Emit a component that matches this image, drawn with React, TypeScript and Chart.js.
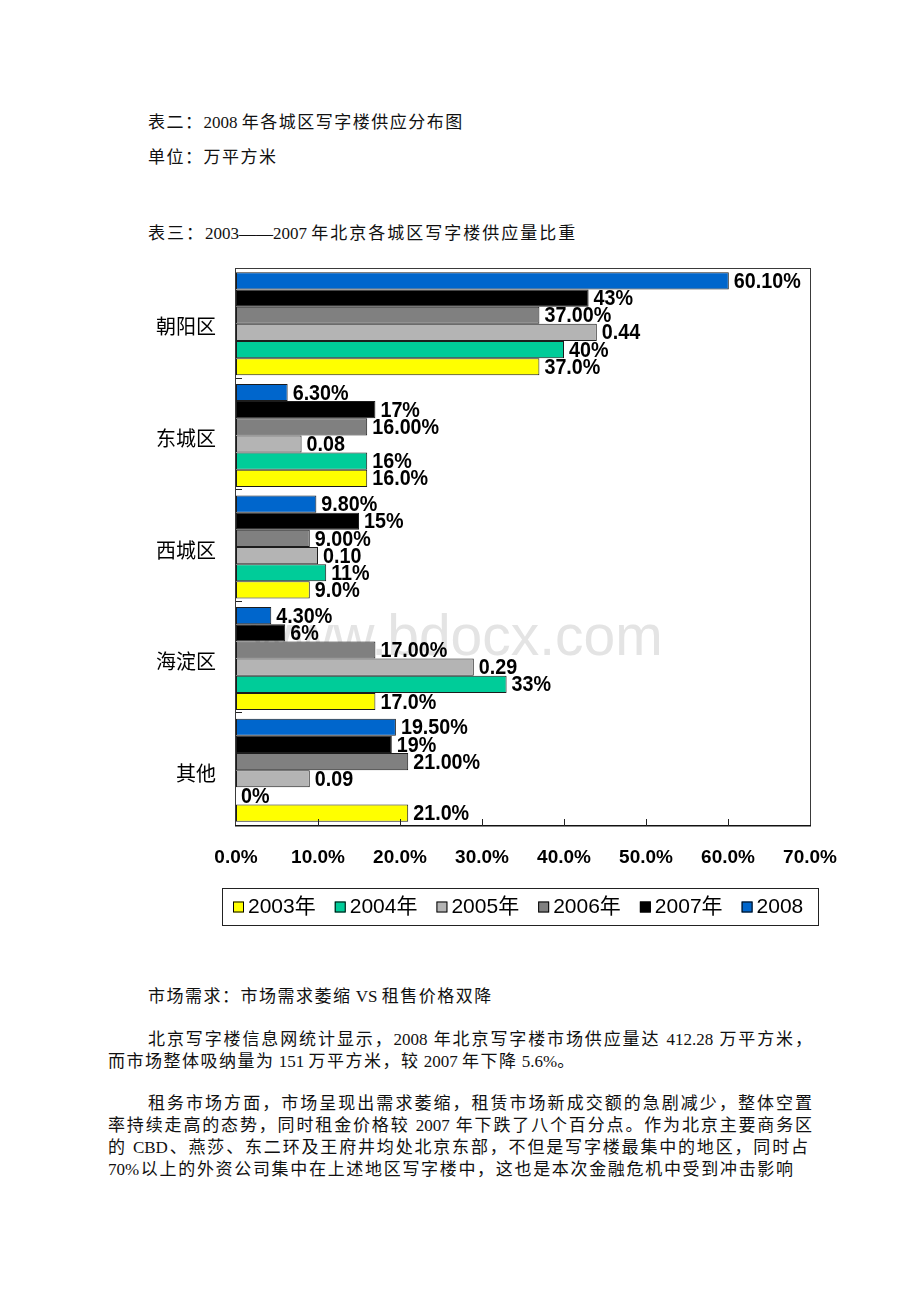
import React, { useEffect, useRef } from 'react';
import { Chart, registerables } from 'chart.js';

Chart.register(...registerables);

// ---------- data ----------
const categories = ['朝阳区', '东城区', '西城区', '海淀区', '其他'];

const seriesNames = ['2003年', '2004年', '2005年', '2006年', '2007年', '2008'];
const seriesColors = ['#FFFF00', '#00CC99', '#B4B4B4', '#808080', '#000000', '#0066CC'];

const values2003 = [37, 16, 9, 17, 21];
const values2004 = [40, 16, 11, 33, 0];
const values2005 = [44, 8, 10, 29, 9];
const values2006 = [37, 16, 9, 17, 21];
const values2007 = [43, 17, 15, 6, 19];
const values2008 = [60.1, 6.3, 9.8, 4.3, 19.5];

const labels2003 = ['37.0%', '16.0%', '9.0%', '17.0%', '21.0%'];
const labels2004 = ['40%', '16%', '11%', '33%', '0%'];
const labels2005 = ['0.44', '0.08', '0.10', '0.29', '0.09'];
const labels2006 = ['37.00%', '16.00%', '9.00%', '17.00%', '21.00%'];
const labels2007 = ['43%', '17%', '15%', '6%', '19%'];
const labels2008 = ['60.10%', '6.30%', '9.80%', '4.30%', '19.50%'];

const xMin = 0;
const xMax = 70;
const xStep = 10;

const allValues = [values2003, values2004, values2005, values2006, values2007, values2008];
const allLabels = [labels2003, labels2004, labels2005, labels2006, labels2007, labels2008];
// bars are stacked top-to-bottom 2008 ... 2003 inside each category
const drawOrder = [5, 4, 3, 2, 1, 0];

const LABEL_FONT = 'bold 21px "Liberation Sans", Arial, sans-serif';
const LEGEND_FONT = '21px "Liberation Sans", Arial, "Noto Sans CJK SC", sans-serif';

const valueLabelPlugin = {
  id: 'valueLabels',
  afterDatasetsDraw(chart: any) {
    const ctx = chart.ctx;
    chart.data.datasets.forEach((ds: any, di: number) => {
      const meta = chart.getDatasetMeta(di);
      meta.data.forEach((bar: any, i: number) => {
        const text = ds.valueLabels[i];
        ctx.save();
        ctx.font = LABEL_FONT;
        ctx.fillStyle = '#000';
        ctx.textAlign = 'left';
        ctx.textBaseline = 'middle';
        ctx.translate(bar.x + 5, bar.y + 1);
        ctx.scale(0.94, 1.05);
        ctx.fillText(text, 0, 0);
        ctx.restore();
      });
    });
  },
};

const framePlugin = {
  id: 'frame',
  afterDraw(chart: any) {
    const ctx = chart.ctx;
    const { left, right, top, bottom } = chart.chartArea;
    const xs = chart.scales.x;
    const ys = chart.scales.y;
    ctx.save();
    ctx.strokeStyle = '#3a3a3a';
    ctx.lineWidth = 1;
    ctx.strokeRect(left - 0.5, top + 0.5, right - left + 1, bottom - top - 1);
    // bottom axis line
    ctx.strokeStyle = '#111';
    ctx.lineWidth = 1.5;
    ctx.beginPath();
    ctx.moveTo(left - 1, bottom - 0.25);
    ctx.lineTo(right + 1, bottom - 0.25);
    ctx.stroke();
    // inner ticks on x axis
    ctx.lineWidth = 1;
    ctx.strokeStyle = '#222';
    xs.ticks.forEach((t: any) => {
      const x = Math.round(xs.getPixelForValue(t.value)) + 0.5;
      if (x <= left + 1 || x >= right - 1) return;
      ctx.beginPath();
      ctx.moveTo(x, bottom);
      ctx.lineTo(x, bottom - 7);
      ctx.stroke();
    });
    // inner ticks on y axis (category boundaries)
    for (let i = 0; i < categories.length - 1; i++) {
      const y = Math.round((ys.getPixelForTick(i) + ys.getPixelForTick(i + 1)) / 2) - 1.5;
      ctx.beginPath();
      ctx.moveTo(left, y);
      ctx.lineTo(left + 6, y);
      ctx.stroke();
    }
    ctx.restore();

    // legend box
    const boxLeft = 122;
    const boxTop = bottom + 62;
    const boxRight = 718;
    const boxBottom = boxTop + 37;
    ctx.save();
    ctx.strokeStyle = '#222';
    ctx.lineWidth = 1;
    ctx.strokeRect(boxLeft + 0.5, boxTop + 0.5, boxRight - boxLeft, boxBottom - boxTop);
    ctx.font = LEGEND_FONT;
    ctx.textBaseline = 'middle';
    ctx.textAlign = 'left';
    const cy = (boxTop + boxBottom) / 2 + 1;
    let x = boxLeft + 11;
    const items = chart.data.datasets.slice().reverse();
    items.forEach((ds: any) => {
      ctx.fillStyle = ds.backgroundColor;
      ctx.fillRect(x, cy - 6, 11, 11);
      ctx.strokeStyle = '#000';
      ctx.strokeRect(x + 0.5, cy - 5.5, 10, 10);
      ctx.fillStyle = '#000';
      const tx = x + 15;
      ctx.fillText(ds.label, tx, cy);
      x = tx + ctx.measureText(ds.label).width + 19;
    });
    ctx.restore();
  },
};

function ChartBox() {
  const ref = useRef<HTMLCanvasElement>(null);
  useEffect(() => {
    const datasets = drawOrder.map((k) => ({
      label: seriesNames[k],
      data: allValues[k],
      valueLabels: allLabels[k],
      backgroundColor: seriesColors[k],
      borderColor: '#1c1c1c',
      borderWidth: 1,
      borderSkipped: false,
      categoryPercentage: 0.923,
      barPercentage: 1,
    }));
    const chart = new Chart(ref.current as HTMLCanvasElement, {
      type: 'bar',
      data: { labels: categories, datasets: datasets as any },
      options: {
        indexAxis: 'y',
        responsive: false,
        maintainAspectRatio: false,
        animation: false,
        devicePixelRatio: 1,
        layout: { padding: { top: 18, right: 50, left: 0, bottom: 62 } },
        plugins: {
          legend: { display: false },
          tooltip: { enabled: false },
        },
        scales: {
          x: {
            min: xMin,
            max: xMax,
            ticks: {
              stepSize: xStep,
              callback: (v: any) => Number(v).toFixed(1) + '%',
              font: { size: 19, weight: 'bold', family: '"Liberation Sans", Arial, sans-serif' },
              color: '#000',
              padding: 20,
              maxRotation: 0,
            },
            grid: { display: false, drawTicks: false },
            border: { display: false },
            afterFit: (s: any) => {
              s.height = 62;
              s.paddingLeft = 0;
              s.paddingRight = 0;
            },
          },
          y: {
            ticks: {
              font: { size: 20, family: '"Noto Sans CJK SC", sans-serif' },
              color: '#000',
              padding: 20,
              labelOffset: 3,
            },
            grid: { display: false, drawTicks: false },
            border: { display: false },
            afterFit: (s: any) => {
              s.width = 136;
              s.paddingTop = 0;
              s.paddingBottom = 0;
            },
          },
        },
      } as any,
      plugins: [valueLabelPlugin, framePlugin],
    });
    return () => chart.destroy();
  }, []);
  return (
    <canvas
      ref={ref}
      width={760}
      height={700}
      style={{ position: 'absolute', left: 100, top: 250, width: 760, height: 700, zIndex: 1 }}
    />
  );
}

const CJK = /([\u3000-\u303f\u4e00-\u9fff\uff00-\uffef]+)/;

function spaced(text: string, ls: number) {
  return text.split(CJK).map((p, i) =>
    CJK.test(p) ? (
      <span key={i} style={{ letterSpacing: ls }}>
        {p}
      </span>
    ) : (
      <span key={i}>{p}</span>
    )
  );
}

const textFont = '"Liberation Serif", "Noto Sans CJK SC", serif';

function Line(props: { x: number; cy: number; text: string; w?: number; ls?: number }) {
  const { x, cy, text, w, ls = 1.5 } = props;
  const style: any = {
    position: 'absolute',
    left: x,
    top: cy - 11,
    lineHeight: '22px',
    fontSize: 17,
    fontFamily: textFont,
    color: '#111',
    whiteSpace: w ? 'normal' : 'nowrap',
  };
  if (w) {
    style.width = w;
    style.textAlign = 'justify';
    style.textAlignLast = 'justify';
  }
  return <div style={style}>{spaced(text, ls)}</div>;
}

export default function App() {
  return (
    <div>
      <Line x={148} cy={123} text="表二：2008 年各城区写字楼供应分布图" />
      <Line x={148} cy={158} text="单位：万平方米" />
      <Line x={148} cy={234} ls={2} text="表三：2003——2007 年北京各城区写字楼供应量比重" />
      <div
        style={{
          position: 'absolute',
          left: 251,
          top: 602,
          fontSize: 57,
          lineHeight: '66px',
          fontFamily: '"Liberation Sans", Arial, sans-serif',
          color: '#e4e4e4',
          whiteSpace: 'nowrap',
          zIndex: 0,
        }}
      >
        www.bdocx.com
      </div>
      <ChartBox />
      <Line x={148} cy={997} text="市场需求：市场需求萎缩 VS 租售价格双降" />
      <Line x={148} cy={1040} w={664} ls={0} text="北京写字楼信息网统计显示，2008 年北京写字楼市场供应量达 412.28 万平方米，" />
      <Line x={108} cy={1062} text="而市场整体吸纳量为 151 万平方米，较 2007 年下降 5.6%。" />
      <Line x={148} cy={1104} w={664} ls={0} text="租务市场方面，市场呈现出需求萎缩，租赁市场新成交额的急剧减少，整体空置" />
      <Line x={108} cy={1126} w={704} ls={0} text="率持续走高的态势，同时租金价格较 2007 年下跌了八个百分点。作为北京主要商务区" />
      <Line x={108} cy={1148} w={700} ls={0} text="的 CBD、燕莎、东二环及王府井均处北京东部，不但是写字楼最集中的地区，同时占" />
      <Line x={108} cy={1170} w={685} ls={0} text="70%以上的外资公司集中在上述地区写字楼中，这也是本次金融危机中受到冲击影响" />
    </div>
  );
}
